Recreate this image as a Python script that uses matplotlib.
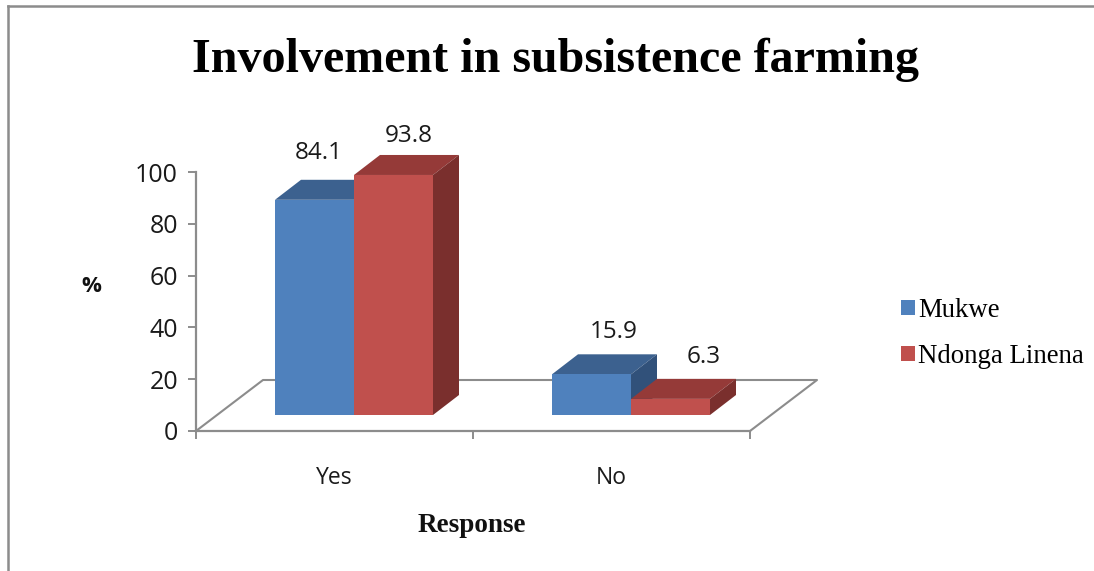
import matplotlib
matplotlib.use("Agg")
import matplotlib.pyplot as plt
from matplotlib.lines import Line2D
from matplotlib.patches import Patch, Polygon

categories = ["Yes", "No"]
mukwe = [84.1, 15.9]
ndonga = [93.8, 6.3]
series_names = ["Mukwe", "Ndonga Linena"]
y_ticks = [0, 20, 40, 60, 80, 100]

# face, top, side
blues = ["#4F81BD", "#3C618F", "#31517A"]
reds = ["#C0504D", "#953A38", "#7A2F2D"]
grey = "#8C8C8C"

W, H = 1094, 571
fig = plt.figure(figsize=(W / 100, H / 100), dpi=100)
fig.patch.set_facecolor("white")

# axes box is the front edge of the fake 3d floor
left, right, top, bottom = 196, 750, 172, 431
ax = fig.add_axes([left / W, 1 - bottom / H, (right - left) / W, (bottom - top) / H])
ax.set_xlim(-0.5, 1.5)
ax.set_ylim(0, 100)
ax.patch.set_visible(False)

# pixel -> data unit helpers for the depth offsets
px_x = 2 / (right - left)
px_y = 100 / (bottom - top)

# floor
floor_dx, floor_dy = 67 * px_x, 51 * px_y
floor_x = [-0.5, -0.5 + floor_dx, 1.5 + floor_dx, 1.5]
floor_y = [0, floor_dy, floor_dy, 0]
ax.plot(floor_x, floor_y, color=grey, lw=1.5, clip_on=False, zorder=1)

# bars, the front faces sit a bit nearer than the axis so they scale slightly smaller
bar_w = 79 * px_x
base = 16 * px_y
dx, dy = 26 * px_x, 20 * px_y
shift = 19.5 * px_x
bar_scale = 0.988


def bar_top(value):
    return base + value * bar_scale


def draw_bars(x, value, colors, z):
    x0 = x
    x1 = x + bar_w
    y0 = base
    y1 = bar_top(value)
    ax.add_patch(Polygon([(x0, y1), (x1, y1), (x1 + dx, y1 + dy), (x0 + dx, y1 + dy)],
                         fc=colors[1], ec="none", clip_on=False, zorder=z))
    ax.add_patch(Polygon([(x1, y0), (x1 + dx, y0 + dy), (x1 + dx, y1 + dy), (x1, y1)],
                         fc=colors[2], ec="none", clip_on=False, zorder=z))
    ax.bar(x0, y1 - y0, width=bar_w, bottom=y0, align="edge", color=colors[0],
           clip_on=False, zorder=z)


for i in range(len(categories)):
    draw_bars(i + shift - bar_w, mukwe[i], blues, 2 + i * 2)
    draw_bars(i + shift, ndonga[i], reds, 3 + i * 2)

# value labels, offset in pixels from the top of the front face
label_font = dict(family="Open Sans", fontsize=17.5, color="#1a1a1a", ha="center", va="center",
                  annotation_clip=False, zorder=10)
mukwe_offsets = [(4, 47), (22, 42)]
ndonga_offsets = [(15, 39), (33, 42)]
for i in range(len(categories)):
    ax.annotate(f"{mukwe[i]}", (i + shift - bar_w / 2, bar_top(mukwe[i])),
                xytext=mukwe_offsets[i], textcoords="offset pixels", **label_font)
    ax.annotate(f"{ndonga[i]}", (i + shift + bar_w / 2, bar_top(ndonga[i])),
                xytext=ndonga_offsets[i], textcoords="offset pixels", **label_font)

# axes
for s in ["top", "right"]:
    ax.spines[s].set_visible(False)
for s in ["left", "bottom"]:
    ax.spines[s].set_color(grey)
    ax.spines[s].set_linewidth(1.6)

ax.set_yticks(y_ticks)
ax.set_yticklabels([str(t) for t in y_ticks], family="Open Sans", fontsize=18, color="#1a1a1a")
ax.tick_params(axis="y", length=6, width=1.4, color=grey, pad=7)

ax.set_xticks([-0.5, 0.5, 1.5])
ax.set_xticklabels([])
ax.set_xticks([0, 1], minor=True)
ax.set_xticklabels(categories, minor=True, family="Open Sans", fontsize=16.5, color="#1a1a1a")
ax.tick_params(axis="x", which="major", length=6, width=1.4, color=grey)
ax.tick_params(axis="x", which="minor", length=0, pad=25)

# titles
fig.text(556 / W, 1 - 60 / H, "Involvement in subsistence farming", family="Liberation Serif",
         fontweight="bold", fontsize=34.6, ha="center", va="center", color="black")
fig.text(472 / W, 1 - 526 / H, "Response", family="Liberation Serif", fontweight="bold",
         fontsize=19.5, ha="center", va="center", color="#111111")
fig.text(91 / W, 1 - 287 / H, "%", family="Open Sans", fontweight="bold", fontsize=16,
         ha="center", va="center", color="#111111")

# legend
handles = [Patch(fc=blues[0], ec="none"), Patch(fc=reds[0], ec="none")]
fig.legend(handles, series_names, loc="upper left", bbox_to_anchor=(901 / W, 1 - 298 / H),
           frameon=False, prop={"family": "Liberation Serif", "size": 19.3},
           handlelength=0.52, handleheight=0.5, handletextpad=0.12,
           labelspacing=0.78, borderpad=0, borderaxespad=0)

# outer frame of the pasted chart, only top and left show
fig.add_artist(Line2D([8 / W, 1], [1 - 6 / H, 1 - 6 / H], color=grey, lw=1.8))
fig.add_artist(Line2D([8 / W, 8 / W], [1 - 6 / H, 0], color=grey, lw=1.8))

fig.savefig("out.png", dpi=100)
